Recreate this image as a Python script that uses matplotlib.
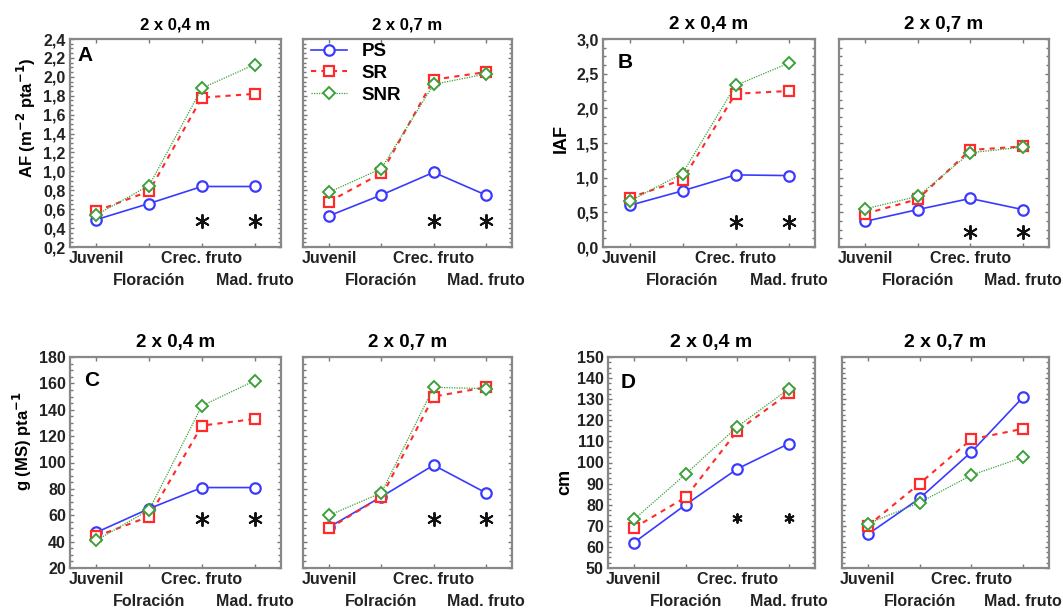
import matplotlib
matplotlib.use("Agg")
import matplotlib.pyplot as plt
from matplotlib.ticker import AutoMinorLocator

plt.rcParams['font.family'] = ['Liberation Sans', 'DejaVu Sans']
plt.rcParams['font.weight'] = 'bold'
plt.rcParams['mathtext.default'] = 'bf'

stages = ["Juvenil", "Floración", "Crec. fruto", "Mad. fruto"]
stages_c = ["Juvenil", "Folración", "Crec. fruto", "Mad. fruto"]
titles = ["2 x 0,4 m", "2 x 0,7 m"]

# A: area foliar
a_ps_04 = [0.49, 0.66, 0.84, 0.84]
a_sr_04 = [0.58, 0.79, 1.78, 1.82]
a_snr_04 = [0.54, 0.85, 1.88, 2.13]
a_ps_07 = [0.53, 0.75, 0.99, 0.75]
a_sr_07 = [0.68, 0.98, 1.97, 2.05]
a_snr_07 = [0.78, 1.03, 1.92, 2.03]

# B: IAF
b_ps_04 = [0.60, 0.81, 1.04, 1.03]
b_sr_04 = [0.71, 0.97, 2.21, 2.25]
b_snr_04 = [0.66, 1.06, 2.33, 2.65]
b_ps_07 = [0.37, 0.54, 0.70, 0.54]
b_sr_07 = [0.48, 0.69, 1.40, 1.45]
b_snr_07 = [0.55, 0.73, 1.36, 1.44]

# C: materia seca
c_ps_04 = [47, 65, 81, 81]
c_sr_04 = [44, 59, 128, 133]
c_snr_04 = [41, 64, 143, 162]
c_ps_07 = [51, 74, 98, 77]
c_sr_07 = [50, 74, 150, 157]
c_snr_07 = [60, 77, 157, 156]

# D: altura
d_ps_04 = [62, 80, 97, 109]
d_sr_04 = [69, 83.5, 115, 133]
d_snr_04 = [73, 94.5, 117, 135]
d_ps_07 = [66, 83, 105, 131]
d_sr_07 = [70, 90, 111, 116]
d_snr_07 = [71, 81, 94, 102.5]

# significance marks: y position of the * at Crec. fruto and Mad. fruto
star_stages = [2, 3]
star_a = 0.47
star_b = [0.36, 0.22]
star_c = 57
star_d = 73.5

W, H = 1063, 608
fig = plt.figure(figsize=(W / 100, H / 100), dpi=100)


def px_axes(l, r, t, b):
    return fig.add_axes([l / W, 1 - b / H, (r - l) / W, (b - t) / H])


def style(ax, ylim, yticks, labels, show_y, xlabels):
    ax.set_xlim(-0.5, 3.5)
    ax.set_ylim(*ylim)
    ax.set_yticks(yticks)
    if show_y:
        ax.set_yticklabels(labels, fontsize=11.5, fontweight='bold', color='#222222')
    else:
        ax.set_yticklabels([])
    # staggered category labels: rows on major / minor ticks
    ax.set_xticks([0, 2], [xlabels[0], xlabels[2]], fontsize=11.5,
                  fontweight='bold', color='#222222')
    ax.set_xticks([1, 3], [xlabels[1], xlabels[3]], minor=True, fontsize=11.5,
                  fontweight='bold', color='#222222')
    ax.yaxis.set_minor_locator(AutoMinorLocator(4))
    ax.tick_params(which='both', direction='in', top=True, right=True,
                   color='#777777')
    ax.tick_params(which='major', length=3, width=1, pad=3)
    ax.tick_params(axis='y', which='minor', length=2, width=1)
    ax.tick_params(axis='x', which='minor', length=3, width=1, pad=19)
    for s in ax.spines.values():
        s.set_color('#888888')
        s.set_linewidth(1.6)


def draw(ax, ps, sr, snr):
    x = range(4)
    ax.plot(x, ps, color='#3a3aff', lw=1.2, ls='-', marker='o', ms=7.5,
            mfc='white', mew=1.6, label='PS', zorder=3)
    ax.plot(x, sr, color='#ff2a2a', lw=1.5, ls=(0, (2.5, 2.5)), marker='s', ms=7.5,
            mfc='white', mew=1.6, label='SR', zorder=4)
    ax.plot(x, snr, color='#3ca03c', lw=0.9, ls=(0, (1, 1)), marker='D', ms=6,
            mfc='white', mew=1.4, label='SNR', zorder=5)


def stars(ax, y, size=90):
    ax.scatter(star_stages, [y] * len(star_stages), marker=(6, 2, 0), s=size,
               color='#111111', linewidths=1.4, zorder=6)


def letter(ax, s, x, y):
    ax.text(x, y, s, transform=ax.transAxes, fontsize=15, fontweight='bold',
            va='center', ha='left')


cols = {'L1': (70, 281), 'R1': (303, 512), 'L2': (603, 815), 'R2': (839, 1049)}
row1 = (39, 247)
row2 = (357, 568)

# ---- A ----
ya = [0.2 + 0.2 * i for i in range(12)]
yal = [f"{v:.1f}".replace('.', ',') for v in ya]
axA1 = px_axes(*cols['L1'], *row1)
draw(axA1, a_ps_04, a_sr_04, a_snr_04)
style(axA1, (0.2, 2.4), ya, yal, True, stages)
stars(axA1, star_a)
axA1.set_ylabel('AF (m$^{-2}$ pta$^{-1}$)', fontsize=12, fontweight='bold')
axA1.yaxis.set_label_coords(-0.15, 0.62)
letter(axA1, 'A', 0.035, 0.92)
axA1.set_title(titles[0], fontsize=12, fontweight='bold', pad=7)

axA2 = px_axes(*cols['R1'], *row1)
draw(axA2, a_ps_07, a_sr_07, a_snr_07)
style(axA2, (0.2, 2.4), ya, yal, False, stages)
stars(axA2, star_a)
axA2.set_title(titles[1], fontsize=12, fontweight='bold', pad=7)
leg = axA2.legend(loc='upper left', bbox_to_anchor=(-0.015, 1.035), frameon=False,
                  handlelength=1.9, fontsize=13.5, labelspacing=0.25, handletextpad=0.8,
                  borderaxespad=0.2)
for t in leg.get_texts():
    t.set_fontweight('bold')

# ---- B ----
yb = [0.5 * i for i in range(7)]
ybl = [f"{v:.1f}".replace('.', ',') for v in yb]
axB1 = px_axes(*cols['L2'], *row1)
draw(axB1, b_ps_04, b_sr_04, b_snr_04)
style(axB1, (0, 3.0), yb, ybl, True, stages)
stars(axB1, star_b[0])
axB1.set_ylabel('IAF', fontsize=13, fontweight='bold')
axB1.yaxis.set_label_coords(-0.155, 0.52)
letter(axB1, 'B', 0.07, 0.885)
axB1.set_title(titles[0], fontsize=13.5, fontweight='bold', pad=7)

axB2 = px_axes(*cols['R2'], *row1)
draw(axB2, b_ps_07, b_sr_07, b_snr_07)
style(axB2, (0, 3.0), yb, ybl, False, stages)
stars(axB2, star_b[1])
axB2.set_title(titles[1], fontsize=13.5, fontweight='bold', pad=7)

# ---- C ----
yc = list(range(20, 181, 20))
ycl = [str(v) for v in yc]
axC1 = px_axes(*cols['L1'], *row2)
draw(axC1, c_ps_04, c_sr_04, c_snr_04)
style(axC1, (20, 180), yc, ycl, True, stages_c)
stars(axC1, star_c)
axC1.set_ylabel('g (MS) pta$^{-1}$', fontsize=12, fontweight='bold')
axC1.yaxis.set_label_coords(-0.17, 0.6)
letter(axC1, 'C', 0.065, 0.89)
axC1.set_title(titles[0], fontsize=13.5, fontweight='bold', pad=7)

axC2 = px_axes(*cols['R1'], *row2)
draw(axC2, c_ps_07, c_sr_07, c_snr_07)
style(axC2, (20, 180), yc, ycl, False, stages_c)
stars(axC2, star_c)
axC2.set_title(titles[1], fontsize=13.5, fontweight='bold', pad=7)

# ---- D ----
yd = list(range(50, 151, 10))
ydl = [str(v) for v in yd]
axD1 = px_axes(608, 815, *row2)
draw(axD1, d_ps_04, d_sr_04, d_snr_04)
style(axD1, (50, 150), yd, ydl, True, stages)
stars(axD1, star_d, size=40)
axD1.set_ylabel('cm', fontsize=13, fontweight='bold')
axD1.yaxis.set_label_coords(-0.17, 0.41)
letter(axD1, 'D', 0.06, 0.88)
axD1.set_title(titles[0], fontsize=14, fontweight='bold', pad=7)

axD2 = px_axes(842, 1049, *row2)
draw(axD2, d_ps_07, d_sr_07, d_snr_07)
style(axD2, (50, 150), yd, ydl, False, stages)
axD2.set_title(titles[1], fontsize=14, fontweight='bold', pad=7)

fig.savefig('out.png', dpi=100)
